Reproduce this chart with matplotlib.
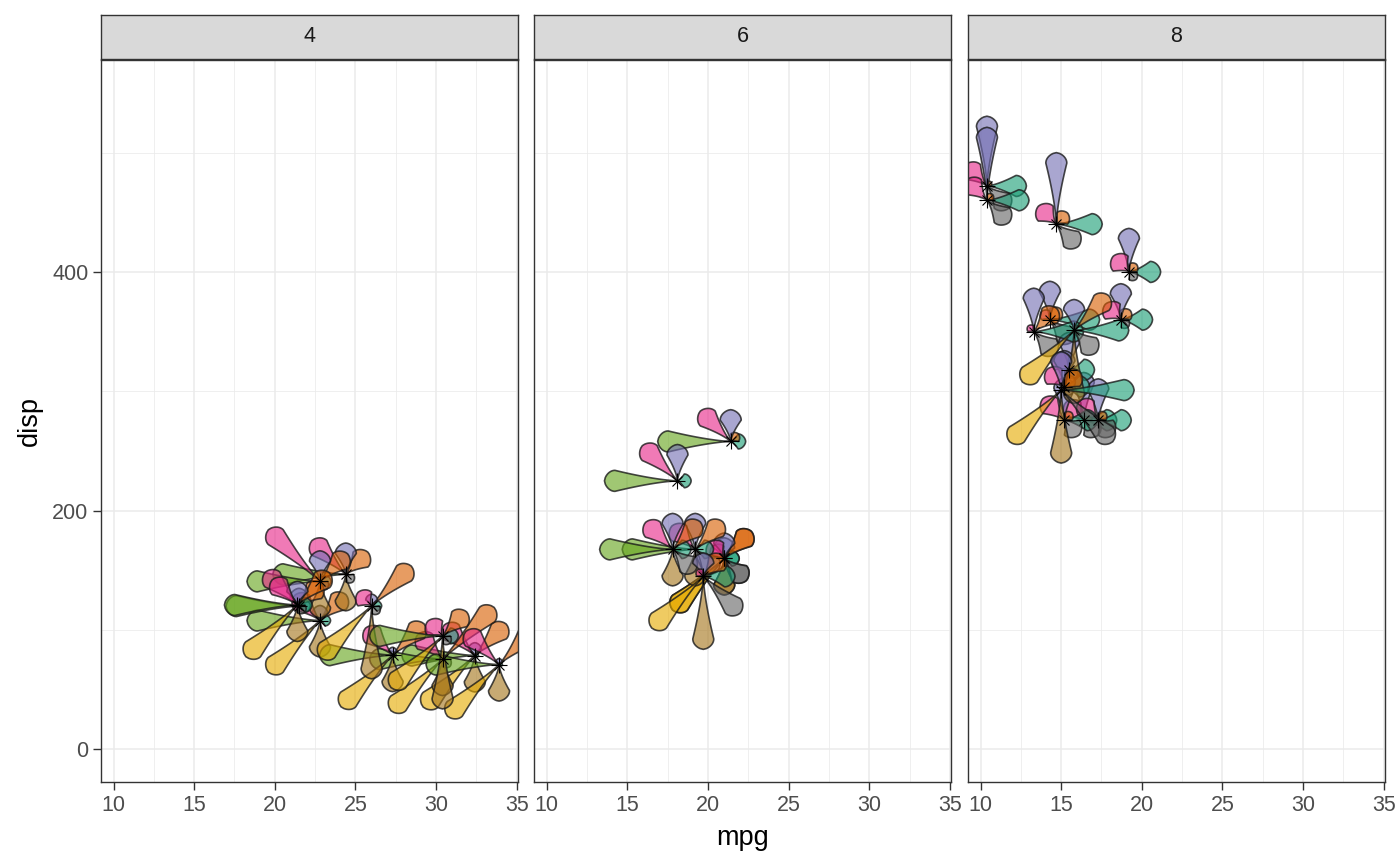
import numpy as np
import matplotlib.pyplot as plt
from matplotlib.patches import Polygon
from matplotlib.colors import to_rgba

plt.rcParams['font.family'] = ['Liberation Sans', 'DejaVu Sans']

# ==========================
# Data (mtcars)
# ==========================
mpg = [21.0, 21.0, 22.8, 21.4, 18.7, 18.1, 14.3, 24.4, 22.8, 19.2, 17.8, 16.4, 17.3, 15.2, 10.4, 10.4,
       14.7, 32.4, 30.4, 33.9, 21.5, 15.5, 15.2, 13.3, 19.2, 27.3, 26.0, 30.4, 15.8, 19.7, 15.0, 21.4]
cyl = [6, 6, 4, 6, 8, 6, 8, 4, 4, 6, 6, 8, 8, 8, 8, 8, 8, 4, 4, 4, 4, 8, 8, 8, 8, 4, 4, 4, 8, 6, 8, 4]
disp = [160.0, 160.0, 108.0, 258.0, 360.0, 225.0, 360.0, 146.7, 140.8, 167.6, 167.6, 275.8, 275.8, 275.8,
        472.0, 460.0, 440.0, 78.7, 75.7, 71.1, 120.1, 318.0, 304.0, 350.0, 400.0, 79.0, 120.3, 95.1,
        351.0, 145.0, 301.0, 121.0]
hp = [110, 110, 93, 110, 175, 105, 245, 62, 95, 123, 123, 180, 180, 180, 205, 215, 230, 66, 52, 65, 97,
      150, 150, 245, 175, 66, 91, 113, 264, 175, 335, 109]
drat = [3.90, 3.90, 3.85, 3.08, 3.15, 2.76, 3.21, 3.69, 3.92, 3.92, 3.92, 3.07, 3.07, 3.07, 2.93, 3.00,
        3.23, 4.08, 4.93, 4.22, 3.70, 2.76, 3.15, 3.73, 3.08, 4.08, 4.43, 3.77, 4.22, 3.62, 3.54, 4.11]
wt = [2.620, 2.875, 2.320, 3.215, 3.440, 3.460, 3.570, 3.190, 3.150, 3.440, 3.440, 4.070, 3.730, 3.780,
      5.250, 5.424, 5.345, 2.200, 1.615, 1.835, 2.465, 3.520, 3.435, 3.840, 3.845, 1.935, 2.140, 1.513,
      3.170, 2.770, 3.570, 2.780]
qsec = [16.46, 17.02, 18.61, 19.44, 17.02, 20.22, 15.84, 20.00, 22.90, 18.30, 18.90, 17.40, 17.60, 18.00,
        17.98, 17.82, 17.42, 19.47, 18.52, 19.90, 20.01, 16.87, 17.30, 15.41, 17.05, 18.90, 16.70, 16.90,
        14.50, 15.50, 14.60, 18.60]
vs = [0, 0, 1, 1, 0, 1, 0, 1, 1, 1, 1, 0, 0, 0, 0, 0, 0, 1, 1, 1, 1, 0, 0, 0, 0, 1, 0, 1, 0, 0, 0, 1]
am = [1, 1, 1, 0, 0, 0, 0, 0, 0, 0, 0, 0, 0, 0, 0, 0, 0, 1, 1, 1, 0, 0, 0, 0, 0, 1, 1, 1, 1, 1, 1, 1]
gear = [4, 4, 4, 3, 3, 3, 3, 4, 4, 4, 4, 3, 3, 3, 3, 3, 3, 4, 4, 4, 3, 3, 3, 3, 3, 4, 5, 5, 5, 5, 5, 4]
carb = [4, 4, 1, 1, 2, 1, 4, 2, 2, 4, 4, 3, 3, 3, 4, 4, 4, 1, 2, 1, 1, 2, 2, 4, 2, 1, 2, 2, 4, 6, 8, 2]

petal_vars = [hp, drat, wt, qsec, vs, am, gear, carb]
petal_colors = ["#1B9E77", "#D95F02", "#7570B3", "#E7298A", "#66A61E", "#E6AB02", "#A6761D", "#666666"]
facets = [4, 6, 8]

# ==========================
# Layout (pixels)
# ==========================
W, H = 1400, 866
panel_left = [101, 534.3, 968]
panel_w = 417
panel_top, panel_bottom = 60, 782.3
strip_top = 15
xlim = (9.225, 35.075)
ylim = (-27.5, 577.5)
sx = panel_w / (xlim[1] - xlim[0])
sy = (panel_bottom - panel_top) / (ylim[1] - ylim[0])
L_MAX = 73.0   # px, longest petal
R_MAX = 10.5   # px, half width of the bulb


def petal_xy(cx, cy, L, ang):
    r = min(R_MAX, 0.5 * L)
    c = L - r
    s = np.linspace(0, L, 90)
    w = np.where(s <= c,
                 r * (np.clip(s / max(c, 1e-6), 0, 1)) ** 1.45,
                 r * np.clip(1 - ((s - c) / r) ** 2, 0, 1) ** 0.62)
    ss = np.concatenate([s, s[::-1]])
    ww = np.concatenate([w, -w[::-1]])
    ca, sa = np.cos(ang), np.sin(ang)
    dx = ss * ca - ww * sa
    dy = ss * sa + ww * ca
    return np.column_stack([cx + dx / sx, cy + dy / sy])


scaled = []
for v in petal_vars:
    a = np.array(v, dtype=float)
    scaled.append((a - a.min()) / (a.max() - a.min()))

fig = plt.figure(figsize=(W / 100, H / 100), dpi=100)

for k, cy_val in enumerate(facets):
    ax = fig.add_axes([panel_left[k] / W, 1 - panel_bottom / H,
                       panel_w / W, (panel_bottom - panel_top) / H])
    ax.set_xlim(*xlim)
    ax.set_ylim(*ylim)
    ax.set_xticks([10, 15, 20, 25, 30, 35])
    ax.set_xticks([12.5, 17.5, 22.5, 27.5, 32.5], minor=True)
    ax.set_yticks([0, 200, 400])
    ax.set_yticks([100, 300, 500], minor=True)
    ax.grid(which="major", color="#EBEBEB", linewidth=1.1)
    ax.grid(which="minor", color="#EBEBEB", linewidth=0.55)
    ax.set_axisbelow(True)
    for sp in ax.spines.values():
        sp.set_color("#333333")
        sp.set_linewidth(1.0)
    ax.tick_params(which="major", length=5.5, width=1.0, color="#333333",
                   labelsize=15.5, labelcolor="#4D4D4D", pad=3.5)
    ax.tick_params(which="minor", length=0)
    if k > 0:
        ax.tick_params(axis="y", which="both", left=False, labelleft=False)

    idx = [i for i in range(len(mpg)) if cyl[i] == cy_val]
    for i in idx:
        for j in range(8):
            L = L_MAX * scaled[j][i]
            if L < 0.5:
                continue
            poly = Polygon(petal_xy(mpg[i], disp[i], L, j * np.pi / 4), closed=True,
                           facecolor=to_rgba(petal_colors[j], 0.62),
                           edgecolor=(0.1, 0.1, 0.1, 0.8), linewidth=1.2)
            ax.add_patch(poly)
    xs = [mpg[i] for i in idx]
    ys = [disp[i] for i in idx]
    ax.plot(xs, ys, "+", color="black", markersize=11, markeredgewidth=0.8, linestyle="none")
    ax.plot(xs, ys, "x", color="black", markersize=7.5, markeredgewidth=0.8, linestyle="none")

    # strip
    sax = fig.add_axes([panel_left[k] / W, 1 - (panel_top - 1) / H,
                        panel_w / W, (panel_top - 1 - strip_top) / H])
    sax.set_xticks([])
    sax.set_yticks([])
    sax.set_facecolor("#D9D9D9")
    for sp in sax.spines.values():
        sp.set_color("#333333")
        sp.set_linewidth(1.0)
    sax.text(0.5, 0.5, str(cy_val), ha="center", va="center", fontsize=15.5,
             color="#1A1A1A", transform=sax.transAxes)

fig.text(743 / W, 1 - 838 / H, "mpg", ha="center", va="center", fontsize=19.5, color="black")
fig.text(30 / W, 1 - 421 / H, "disp", ha="center", va="center", fontsize=19.5,
         rotation=90, color="black")

plt.savefig("out.png", dpi=100)
plt.close()
